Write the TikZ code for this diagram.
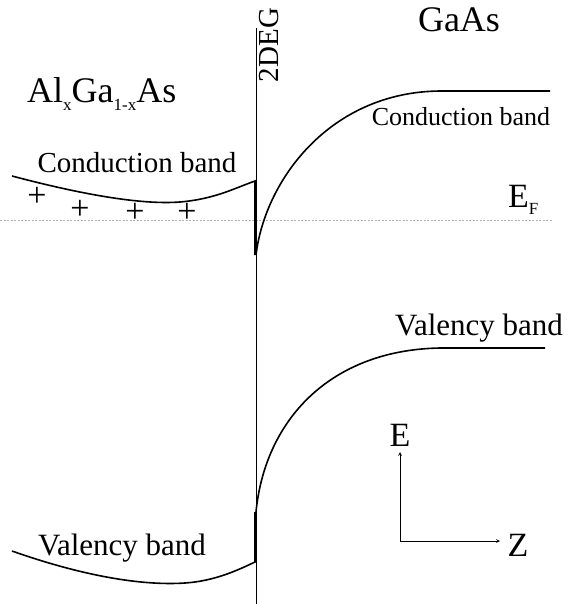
\documentclass[tikz,border=0pt]{standalone}
\usepackage{fontspec}
\setmainfont{Liberation Serif}
\newcommand{\fsz}[1]{\fontsize{#1}{#1}\selectfont}
\newcommand{\lowsub}[1]{\raisebox{-0.22em}{\fsz{17}#1}}
\tikzset{
  band/.style={line width=1.6pt},
  lbl/.style={inner sep=0pt},
}
\begin{document}
\begin{tikzpicture}[>=stealth,x=1pt,y=-1pt]
	  \useasboundingbox (0,0) rectangle (578,604);
	  % Fermi level and interface
	  \draw[gray!60,dashed,dash pattern=on 2pt off 1.5pt,line width=0.6pt] (0,220) -- (552,220);
	  \draw[line width=0.9pt] (256,28) -- (256,604);
	  % bands
	  \draw[band] (12,176) .. controls (80,194) and (140,205) .. (180,202) .. controls (215,199) and (235,188) .. (255,181) -- (255,255);
	  \draw[band] (256,255) .. controls (265,180) and (330,92) .. (440,91) -- (550,91);
	  \draw[band] (12,551) .. controls (80,575) and (140,586) .. (185,583) .. controls (215,581) and (238,570) .. (255,562) -- (255,512);
	  \draw[band] (256,512) .. controls (265,420) and (330,350) .. (440,348) -- (545,348);
	  % labels
	  \node[lbl] (gaas) at (459,20) {\fsz{36}GaAs};
	  \node[lbl,anchor=base west] (algaas) at (27,103) {\fsz{36}Al\lowsub{x}Ga\lowsub{1-x}As};
	  \node[lbl,rotate=90] (deg) at (269,45) {\fsz{29}2DEG};
	  \node[lbl] (cbl) at (137,163) {\fsz{29}Conduction band};
	  \node[lbl] (cbr) at (461,117) {\fsz{26}Conduction band};
	  \node[lbl] (vbl) at (122,548) {\fsz{31}Valency band};
	  \node[lbl] (vbr) at (479,328) {\fsz{31}Valency band};
	  \node[lbl,anchor=base west] (ef) at (508,207) {\fsz{34}E\lowsub{F}};
	  \node[lbl] (p1) at (37,197) {\fsz{34}+};
	  \node[lbl] (p2) at (80,210) {\fsz{34}+};
	  \node[lbl] (p3) at (135,213) {\fsz{34}+};
	  \node[lbl] (p4) at (187,213) {\fsz{34}+};
	  % axes
	  \coordinate (o) at (400,541);
	  \node[lbl] (e) at (400,435) {\fsz{34}E};
	  \node[lbl] (z) at (518,545) {\fsz{34}Z};
	  \draw[->,line width=0.7pt] (o) -- (400,452);
	  \draw[->,line width=0.7pt] (o) -- (500,541);
	\end{tikzpicture}
\end{document}
